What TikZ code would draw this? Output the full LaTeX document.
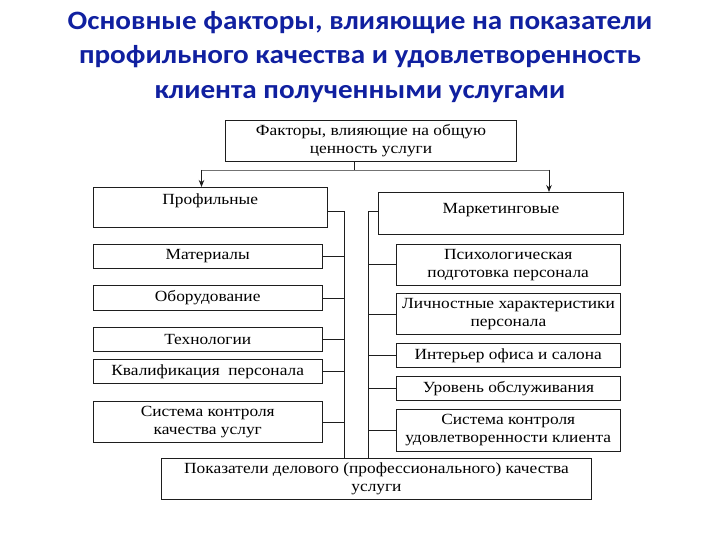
\documentclass[tikz,border=0pt]{standalone}
\usepackage{fontspec}
\setmainfont[FakeStretch=1.12]{Liberation Serif}
\newfontfamily\titlefont[FakeStretch=1.1]{Carlito}
\usetikzlibrary{arrows.meta}
\definecolor{titleblue}{HTML}{1020A0}
\definecolor{lineblk}{HTML}{1E1E1E}
\begin{document}
\begin{tikzpicture}[x=1bp,y=-1bp,
  box/.style={draw=lineblk, line width=0.9bp, anchor=north west, inner sep=1bp,
    align=center, font=\fontsize{15.5bp}{18bp}\selectfont},
  conn/.style={draw=lineblk, line width=0.8bp},
  gconn/.style={draw=black!55, line width=0.8bp},
  arr/.style={-{Stealth[length=7bp,width=5.5bp]}}]
\useasboundingbox (0,0) rectangle (720,540);
% title
\node[font=\titlefont\bfseries\fontsize{26.5bp}{34.5bp}\selectfont, text=titleblue, align=center] (title) at (360,57)
  {Основные факторы, влияющие на показатели\\профильного качества и удовлетворенность\\клиента полученными услугами};
% boxes
\node[box, minimum width=291bp, minimum height=41bp] (top) at (225,120) {Факторы, влияющие на общую\\ценность услуги};
\node[box, minimum width=234.5bp, minimum height=40bp] (prof) at (92.5,187) {Профильные\\[-2bp]\mbox{}};
\node[box, minimum width=245bp, minimum height=42bp] (mark) at (378,192) {Маркетинговые\\[-8bp]\mbox{}};
\node[box, minimum width=229.5bp, minimum height=24bp] (l1) at (92.5,244) {Материалы};
\node[box, minimum width=229.5bp, minimum height=25bp] (l2) at (92.5,285) {Оборудование};
\node[box, minimum width=229.5bp, minimum height=23.5bp] (l3) at (92.5,327) {Технологии};
\node[box, minimum width=229.5bp, minimum height=24bp] (l4) at (92.5,359) {Квалификация\ \ персонала};
\node[box, minimum width=229.5bp, minimum height=41bp] (l5) at (92.5,401) {Система контроля\\качества услуг};
\node[box, minimum width=223.5bp, minimum height=40.5bp] (r1) at (396,244) {Психологическая\\подготовка персонала};
\node[box, minimum width=224bp, minimum height=41bp] (r2) at (396,293) {Личностные характеристики\\персонала};
\node[box, minimum width=223.5bp, minimum height=24bp] (r3) at (396,343) {Интерьер офиса и салона};
\node[box, minimum width=224bp, minimum height=24bp] (r4) at (396,376) {Уровень обслуживания};
\node[box, minimum width=223.5bp, minimum height=42bp] (r5) at (396,409) {Система контроля\\удовлетворенности клиента};
\node[box, minimum width=430bp, minimum height=41bp] (bot) at (161,458) {Показатели делового (профессионального) качества\\услуги};
% top connectors
\coordinate (stub) at (354,170);
\coordinate (hl) at (201.5,170);
\coordinate (hr) at (549,170);
\draw[conn] (top.south -| stub) -- (stub);
\draw[gconn] (hl) -- (hr);
\draw[conn, arr] (hl) -- (hl |- prof.north);
\draw[conn, arr] (hr) -- (hr |- mark.north);
% buses
\coordinate (bl) at (344,211);
\coordinate (br) at (368,211);
\draw[conn] (prof.east |- bl) -- (bl) -- (bl |- bot.north);
\draw[conn] (mark.west |- br) -- (br) -- (br |- bot.north);
% branches
\foreach \n in {l1,l2,l3,l4,l5} \draw[conn] (\n.east) -- (\n.east -| bl);
\foreach \n in {r1,r2,r3,r4,r5} \draw[conn] (\n.west) -- (\n.west -| br);
\end{tikzpicture}
\end{document}
